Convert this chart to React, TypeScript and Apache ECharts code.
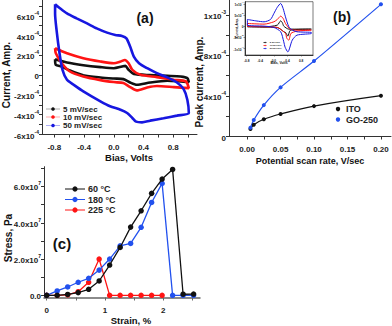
import React, { useEffect, useRef } from 'react';
import * as echarts from 'echarts';

const FONT = '"Liberation Sans", Arial, sans-serif';

// ---------- Panel (a): cyclic voltammograms (x: V, y: 1e-4 A) ----------
const cvLabels = ['5 mV/sec', '10 mV/sec', '50 mV/sec'];
const cv5 = [
  [-0.79, 1.61], [-0.63, 1.28], [-0.41, 1.01], [-0.18, 0.81], [0.0, 0.7], [0.11, 0.87], [0.155, 0.94],
  [0.2, 0.54], [0.27, 0.13], [0.49, 0.0], [0.72, -0.07], [0.9, -0.13], [0.99, -0.3], [1.01, -0.7],
  [0.9, -0.64], [0.72, -0.57], [0.49, -0.74], [0.31, -0.97], [0.22, -0.74], [0.13, -0.4], [0.0, -0.34],
  [-0.18, -0.23], [-0.41, 0.0], [-0.59, 0.47], [-0.7, 0.87], [-0.78, 1.04], [-0.79, 1.61],
];
const cv10 = [
  [-0.79, 2.72], [-0.63, 2.21], [-0.41, 1.71], [-0.18, 1.38], [0.0, 1.21], [0.09, 1.38], [0.15, 1.54],
  [0.2, 1.21], [0.25, 0.54], [0.36, 0.03], [0.58, -0.2], [0.81, -0.47], [0.97, -0.64], [1.01, -1.31],
  [0.81, -1.21], [0.58, -1.1], [0.45, -1.25], [0.31, -1.54], [0.22, -1.21], [0.13, -0.8], [0.0, -0.7],
  [-0.18, -0.5], [-0.41, -0.13], [-0.59, 0.37], [-0.7, 1.21], [-0.78, 2.21], [-0.79, 2.72],
];
const cv50 = [
  [-0.79, 7.18], [-0.72, 6.74], [-0.63, 6.24], [-0.5, 5.74], [-0.36, 5.23], [-0.23, 4.73], [-0.09, 4.3],
  [0.02, 4.06], [0.11, 3.96], [0.17, 3.72], [0.22, 2.89], [0.27, 1.88], [0.34, 1.21], [0.45, 0.7],
  [0.58, 0.2], [0.72, -0.23], [0.85, -0.74], [0.94, -1.41], [0.99, -2.48], [1.01, -3.83],
  [0.85, -4.09], [0.67, -4.36], [0.49, -4.6], [0.38, -4.77], [0.3, -4.7], [0.25, -4.33], [0.18, -3.83],
  [0.09, -3.49], [-0.05, -3.15], [-0.18, -2.65], [-0.41, -1.64], [-0.54, -0.97], [-0.63, -0.47],
  [-0.69, 0.54], [-0.73, 2.21], [-0.77, 4.56], [-0.79, 6.24], [-0.79, 7.18],
];

// ---------- Panel (b): peak current vs scan rate (y: 1e-4 A) ----------
const scanRates = [0.005, 0.01, 0.025, 0.05, 0.1, 0.2];
const itoPeak = [0.74, 1.17, 1.7, 2.22, 3.0, 4.03];
const goPeak = [0.87, 1.63, 3.1, 4.85, 7.45, 13.05];
const bLegend = ['ITO', 'GO-250'];

// inset (x: V, y: 1e-5 A)
const in5 = [
  [-0.78, 0], [-0.29, -0.3], [0.1, 0.45], [0.2, 2.4], [0.25, 1.5], [0.29, 0], [0.44, -1.35], [1.1, -1.35],
  [1.1, -1.5], [0.49, -1.8], [0.41, -4.5], [0.35, -3.0], [0.29, -2.5], [0.1, -0.6], [-0.29, -0.45],
  [-0.78, -0.3], [-0.78, 0],
];
const in10 = [
  [-0.78, 1.2], [-0.29, 0.9], [0.0, 1.95], [0.1, 3.0], [0.2, 4.5], [0.27, 3.5], [0.34, 1.2], [0.49, -1.5],
  [0.7, -1.8], [1.1, -1.8], [1.1, -2.1], [0.68, -2.25], [0.5, -3.3], [0.44, -6.3], [0.38, -5.5],
  [0.34, -3.3], [0.1, -0.6], [-0.29, -0.3], [-0.78, 0], [-0.78, 1.2],
];
const in50 = [
  [-0.78, 3.0], [-0.5, 2.3], [-0.29, 1.95], [-0.1, 3.0], [0.0, 5.7], [0.1, 8.5], [0.2, 10.2], [0.27, 8.0],
  [0.34, 4.2], [0.44, -0.3], [0.55, -1.8], [0.68, -2.55], [1.1, -2.85], [1.1, -3.3], [0.68, -4.05],
  [0.54, -6.3], [0.41, -11.6], [0.33, -9.5], [0.29, -7.05], [0.2, -2.55], [0.0, -0.6], [-0.29, 0.0],
  [-0.78, 0.45], [-0.78, 3.0],
];

// ---------- Panel (c): stress-strain (x: %, y: 1e7 Pa) ----------
const strain = [0, 0.18, 0.36, 0.54, 0.72, 0.9, 1.08, 1.26, 1.44, 1.62, 1.8, 1.98, 2.16, 2.34, 2.52];
const stress60 = [0, 0, 0.05, 0.15, 0.33, 0.79, 1.67, 2.64, 3.76, 4.66, 5.62, 6.41, 6.94, 0.06, 0.07];
const stress180 = [0, 0.24, 0.46, 0.72, 0.94, 1.39, 2.0, 2.73, 2.86, 3.75, 5.12, 6.17, 0, 0, 0];
const stress225 = [0, 0, 0.03, 0.2, 0.72, 2.0, 0, 0, 0, 0, 0, 0];
const cLegend = ['60 °C', '180 °C', '225 °C'];

const BLACK = '#111111';
const RED = '#ff1414';
const BLUE_A = '#1717e0';
const BLUE_B = '#2251ee';

const rich = {
  n: { fontSize: 8, fontWeight: 'bold' as const, fontFamily: FONT, color: '#222', lineHeight: 11, verticalAlign: 'bottom' as const },
  s: { fontSize: 5, fontWeight: 'bold' as const, fontFamily: FONT, color: '#222', lineHeight: 11, verticalAlign: 'top' as const },
  t: { fontSize: 3.2, fontFamily: FONT, color: '#222', lineHeight: 5, verticalAlign: 'bottom' as const },
  ts: { fontSize: 2.2, fontFamily: FONT, color: '#222', lineHeight: 5, verticalAlign: 'top' as const },
};

function axis(opts: any) {
  const { grid, min, max, labels, ticks, fmt, margin, small, color, width } = opts;
  return {
    type: 'value',
    gridIndex: grid,
    min,
    max,
    axisLine: { show: true, onZero: false, lineStyle: { color: color || '#333', width: width || 1 } },
    axisTick: { show: true, customValues: ticks, length: small ? 1.5 : 3, lineStyle: { color: color || '#333', width: small ? 0.5 : 1 } },
    axisLabel: {
      show: true,
      customValues: labels,
      formatter: fmt,
      margin,
      rich,
      fontSize: small ? 3.2 : 8,
      fontWeight: 'bold',
      fontFamily: FONT,
      color: '#222',
      hideOverlap: false,
    },
    splitLine: { show: false },
  };
}

function legendItem(x: number, y: number, color: string, text: string, size: number, lineW: number, r: number, opacity: number) {
  return [
    { type: 'line', shape: { x1: x - lineW, y1: y, x2: x + lineW, y2: y }, style: { stroke: color, lineWidth: 1, opacity } },
    { type: 'circle', shape: { cx: x, cy: y, r }, style: { fill: color } },
    {
      type: 'text', x: x + lineW + 3, y,
      style: { text, fontSize: size, fontWeight: 'bold', fontFamily: FONT, fill: '#222', textVerticalAlign: 'middle', verticalAlign: 'middle' },
    },
  ];
}

function label(text: string, x: number, y: number, size: number, rotate = false) {
  return {
    type: 'text', x, y, rotation: rotate ? Math.PI / 2 : 0,
    style: {
      text, fontSize: size, fontWeight: 'bold', fontFamily: FONT, fill: '#111',
      textAlign: 'center', align: 'center', textVerticalAlign: 'middle', verticalAlign: 'middle',
    },
  };
}

export default function App() {
  const ref = useRef<HTMLDivElement>(null);
  useEffect(() => {
    document.body.style.margin = '0';
    if (!ref.current) return;
    const chart = echarts.init(ref.current, undefined, { renderer: 'svg' });

    const supFmt = (exp: string) => (v: number) => (v === 0 ? '{n|0}' : `{n|${v}x10}{s|${exp}}`);

    const option: any = {
      animation: false,
      backgroundColor: '#fff',
      grid: [
        { left: 42, top: 0, width: 155, height: 134.5, containLabel: false, outerBoundsMode: 'none' },
        { left: 229, top: 0, width: 162, height: 136.5, containLabel: false, outerBoundsMode: 'none' },
        { left: 245, top: 1.7, width: 68, height: 53.3, containLabel: false, outerBoundsMode: 'none', show: true, borderColor: '#222', borderWidth: 0.6, backgroundColor: '#fff', z: 5 },
        { left: 44, top: 166.7, width: 156, height: 130.8, containLabel: false, outerBoundsMode: 'none' },
      ],
      xAxis: [
        axis({ grid: 0, min: -0.966, max: 1.12, labels: [-0.8, -0.4, 0, 0.4, 0.8], ticks: [-0.8, -0.6, -0.4, -0.2, 0, 0.2, 0.4, 0.6, 0.8, 1.0], fmt: (v: number) => `{n|${v.toFixed(1)}}`, margin: 6 }),
        axis({ grid: 1, min: -0.027, max: 0.215, labels: [0, 0.05, 0.1, 0.15, 0.2], ticks: [0, 0.025, 0.05, 0.075, 0.1, 0.125, 0.15, 0.175, 0.2], fmt: (v: number) => `{n|${v.toFixed(2)}}`, margin: 6 }),
        { ...axis({ grid: 2, min: -0.85, max: 1.15, labels: [-0.8, -0.4, 0, 0.4, 0.8], ticks: [-0.8, -0.4, 0, 0.4, 0.8], fmt: (v: number) => `{t|${v.toFixed(1)}}`, margin: 2, small: true }), z: 6 },
        axis({ grid: 3, min: -0.046, max: 2.63, labels: [0, 1, 2], ticks: [0, 0.5, 1, 1.5, 2, 2.5], fmt: (v: number) => `{n|${v}}`, margin: 6, color: '#666', width: 1.5 }),
      ],
      yAxis: [
        axis({ grid: 0, min: -6, max: 7.6, labels: [-6, -4, -2, 0, 2, 4, 6], ticks: [-6, -5, -4, -3, -2, -1, 0, 1, 2, 3, 4, 5, 6, 7], fmt: supFmt('-4'), margin: 3 }),
        axis({
          grid: 1, min: 0, max: 13.48, labels: [0, 4, 8, 12], ticks: [0, 2, 4, 6, 8, 10, 12],
          fmt: (v: number) => (v === 0 ? '{n|0}' : v === 12 ? '{n|1x10}{s|-3}' : `{n|${v}x10}{s|-4}`), margin: 3,
        }),
        { ...axis({
          grid: 2, min: -13, max: 11, labels: [-10, -5, 0, 5, 10], ticks: [-10, -5, 0, 5, 10],
          fmt: (v: number) => (v === 0 ? '{t|0}' : Math.abs(v) === 10 ? `{t|${v < 0 ? '-' : ''}1x10}{ts|-4}` : `{t|${v < 0 ? '-' : ''}5x10}{ts|-5}`), margin: 1.5, small: true,
        }), z: 6 },
        axis({
          grid: 3, min: -0.12, max: 7.09, labels: [0, 2, 4, 6], ticks: [0, 1, 2, 3, 4, 5, 6, 7],
          fmt: (v: number) => (v === 0 ? '{n|0.0}' : `{n|${v.toFixed(1)}x10}{s|7}`), margin: 3,
        }),
      ],
      series: [
        ...[cv5, cv10, cv50].map((d, i) => ({
          name: cvLabels[i], type: 'line', xAxisIndex: 0, yAxisIndex: 0, data: d, symbol: 'none', smooth: 0.25,
          lineStyle: { color: [BLACK, RED, BLUE_A][i], width: 2.6 }, z: 2 + i,
        })),
        {
          name: bLegend[0], type: 'line', xAxisIndex: 1, yAxisIndex: 1, data: scanRates.map((x, i) => [x, itoPeak[i]]),
          smooth: 0.4, symbol: 'circle', symbolSize: 4, itemStyle: { color: BLACK }, lineStyle: { color: BLACK, width: 1.2 },
        },
        {
          name: bLegend[1], type: 'line', xAxisIndex: 1, yAxisIndex: 1, data: scanRates.map((x, i) => [x, goPeak[i]]),
          smooth: 0.3, symbol: 'circle', symbolSize: 4, itemStyle: { color: BLUE_B }, lineStyle: { color: BLUE_B, width: 1.2 },
        },
        ...[in5, in10, in50].map((d, i) => ({
          name: 'inset ' + cvLabels[i], type: 'line', xAxisIndex: 2, yAxisIndex: 2, data: d, symbol: 'none', smooth: 0.25,
          lineStyle: { color: [BLACK, RED, BLUE_A][i], width: 1 }, z: 7 + i,
        })),
        ...[stress60, stress180, stress225].map((d, i) => ({
          name: cLegend[i], type: 'line', xAxisIndex: 3, yAxisIndex: 3, data: d.map((y, j) => [strain[j], y]),
          symbol: 'circle', symbolSize: 5.5, itemStyle: { color: [BLACK, BLUE_B, RED][i] },
          lineStyle: { color: [BLACK, BLUE_B, RED][i], width: 1.3 }, z: 4 - i,
        })),
      ],
      graphic: [
        label('(a)', 145, 18, 14),
        label('Current, Amp.', 6, 75, 10, true),
        label('Bias, Volts', 129, 157, 9.5),
        ...legendItem(53, 109, BLACK, cvLabels[0], 8, 7, 1.8, 0.35),
        ...legendItem(53, 117, RED, cvLabels[1], 8, 7, 1.8, 0.35),
        ...legendItem(53, 125.5, BLUE_A, cvLabels[2], 8, 7, 1.8, 0.35),

        label('(b)', 342, 17, 14),
        label('Peak current, Amp.', 199, 82, 10, true),
        label('Potential scan rate, V/sec', 310, 161, 9),
        { type: 'circle', shape: { cx: 338, cy: 109, r: 2.2 }, style: { fill: BLACK } },
        { type: 'text', x: 346, y: 109, style: { text: bLegend[0], fontSize: 9, fontWeight: 'bold', fontFamily: FONT, fill: '#222', textVerticalAlign: 'middle', verticalAlign: 'middle' } },
        { type: 'circle', shape: { cx: 338, cy: 119.5, r: 2.2 }, style: { fill: BLUE_B } },
        { type: 'text', x: 346, y: 119.5, style: { text: bLegend[1], fontSize: 9, fontWeight: 'bold', fontFamily: FONT, fill: '#222', textVerticalAlign: 'middle', verticalAlign: 'middle' } },
        { ...label('Current, Amp.', 236.5, 28, 3, true), z: 10 },
        { ...label('Bias, Volts', 279, 63, 3.4), z: 10 },
        ...legendItem(265, 42.5, BLACK, cvLabels[0], 2.4, 1.8, 0.7, 0.5).map((e) => ({ ...e, z: 10 })),
        ...legendItem(265, 45.5, RED, cvLabels[1], 2.4, 1.8, 0.7, 0.5).map((e) => ({ ...e, z: 10 })),
        ...legendItem(265, 48.5, BLUE_A, cvLabels[2], 2.4, 1.8, 0.7, 0.5).map((e) => ({ ...e, z: 10 })),

        label('(c)', 62, 243, 15),
        label('Stress, Pa', 8, 238, 10, true),
        label('Strain, %', 131, 320, 9.5),
        ...legendItem(75, 189, BLACK, cLegend[0], 9, 10, 2.6, 1),
        ...legendItem(75, 199.5, BLUE_B, cLegend[1], 9, 10, 2.6, 1),
        ...legendItem(75, 210, RED, cLegend[2], 9, 10, 2.6, 1),
      ],
    };
    chart.setOption(option);
    return () => chart.dispose();
  }, []);
  return <div ref={ref} style={{ position: 'fixed', left: 0, top: 0, width: 392, height: 326 }} />;
}
